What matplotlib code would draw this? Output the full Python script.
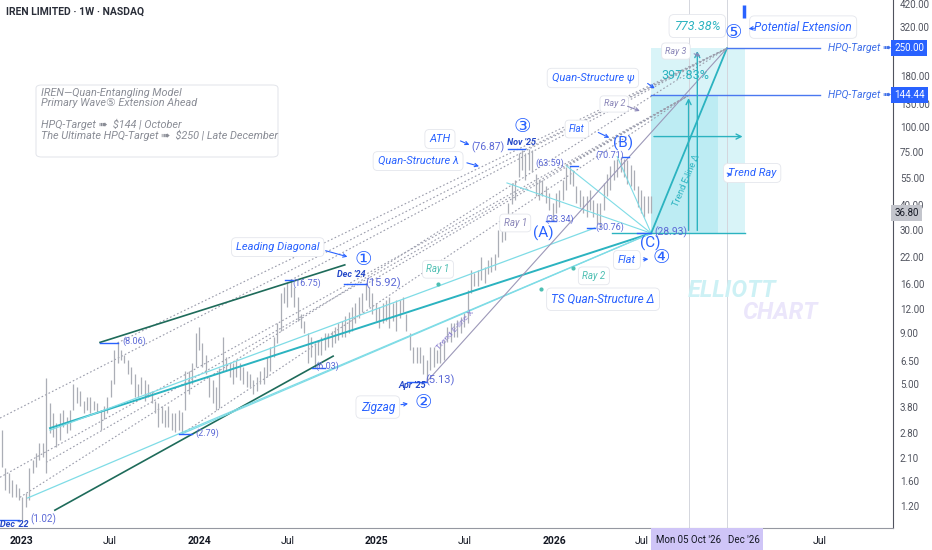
import matplotlib
matplotlib.use('Agg')
import matplotlib.pyplot as plt
import matplotlib.dates as mdates
import matplotlib.transforms as mtrans
from matplotlib.patches import Rectangle, FancyBboxPatch
import pandas as pd

# weekly bars (high / low), first bar week of 2022-11-21
highs = [2.90, 1.88, 1.76, 1.62, 1.56, 1.48, 1.33, 1.40, 1.87, 2.05,
         2.22, 2.50, 2.50, 5.37, 3.98, 3.55, 3.17, 3.55, 3.68, 3.40,
         3.68, 5.00, 4.80, 4.60, 4.10, 4.26, 4.26, 4.10, 3.98, 3.68,
         3.84, 4.26, 5.20, 7.40, 8.06, 7.40, 7.00, 6.60, 6.10, 5.60,
         5.00, 5.40, 5.20, 5.00, 4.60, 4.10, 3.98, 3.84, 3.68, 3.84,
         3.55, 3.55, 3.68, 3.60, 5.80, 5.80, 6.40, 9.00, 9.70, 8.06,
         7.00, 5.40, 5.20, 4.80, 6.00, 8.60, 6.80, 6.40, 6.40, 6.60,
         6.40, 6.10, 5.80, 5.60, 5.20, 5.40, 5.80, 6.10, 6.80, 7.70,
         8.60, 10.1, 14.4, 15.5, 16.2, 16.75, 15.5, 13.8, 11.3, 10.4,
         9.00, 8.60, 8.06, 8.30, 8.60, 9.00, 9.00, 9.30, 9.70, 10.1,
         10.4, 11.0, 11.6, 12.2, 12.8, 13.8, 14.4, 15.92, 15.5, 14.4,
         12.8, 12.2, 12.8, 13.3, 13.8, 12.8, 13.3, 13.3, 13.8, 11.3,
         9.00, 7.70, 7.70, 7.70, 7.00, 6.60, 7.70, 7.70, 7.40, 8.10,
         8.30, 9.70, 10.1, 10.1, 10.5, 10.9, 11.4, 14.9, 18.8, 18.2,
         18.8, 21.9, 19.6, 21.2, 21.9, 22.8, 30.0, 31.0, 32.3, 41.2,
         52.0, 53.8, 74.0, 76.3, 74.0, 76.87, 76.0, 58.0, 53.8, 53.8,
         50.0, 46.5, 41.0, 46.5, 47.9, 53.8, 62.5, 63.59, 60.5, 50.0,
         47.9, 44.6, 44.6, 47.9, 42.6, 41.0, 41.0, 52.0, 58.0, 63.59,
         67.9, 69.0, 70.71, 69.0, 67.9, 64.0, 60.5, 50.0, 47.9, 44.6,
         44.6, 44.6]
lows = [1.90, 1.45, 1.40, 1.33, 1.33, 1.29, 1.02, 1.19, 1.29, 1.76,
        1.89, 2.05, 2.13, 1.76, 2.81, 2.68, 2.39, 2.59, 3.03, 2.81,
        2.91, 3.68, 3.98, 3.84, 3.55, 3.68, 3.55, 3.68, 3.55, 2.91,
        3.30, 3.55, 4.26, 5.00, 6.40, 6.60, 6.40, 5.60, 5.00, 4.26,
        4.26, 4.45, 4.10, 4.26, 3.98, 3.55, 3.03, 3.17, 3.03, 3.03,
        2.91, 2.85, 2.91, 2.79, 3.68, 4.45, 5.00, 6.10, 7.40, 6.10,
        5.60, 4.26, 3.98, 3.68, 3.75, 5.80, 5.80, 5.40, 5.00, 5.40,
        5.20, 5.00, 4.80, 4.80, 4.45, 4.60, 5.00, 5.00, 5.40, 5.80,
        6.80, 8.06, 9.30, 12.8, 12.2, 13.8, 12.2, 10.4, 9.60, 9.00,
        6.40, 6.80, 6.03, 7.00, 7.00, 7.40, 7.70, 7.70, 8.06, 8.30,
        8.60, 8.60, 9.00, 9.30, 10.1, 10.8, 11.6, 13.3, 12.2, 11.3,
        10.4, 9.60, 10.1, 10.4, 9.60, 10.4, 9.30, 10.8, 11.6, 9.30,
        7.40, 6.40, 6.40, 6.40, 5.60, 5.13, 5.90, 6.10, 6.40, 6.40,
        6.60, 8.10, 8.10, 8.60, 8.60, 9.00, 9.70, 10.1, 14.4, 15.6,
        15.6, 16.75, 16.2, 17.9, 18.4, 18.8, 21.9, 26.0, 26.7, 31.0,
        40.5, 42.6, 56.0, 60.5, 53.8, 60.5, 59.0, 44.6, 42.6, 44.6,
        41.0, 37.9, 33.34, 36.6, 39.5, 42.6, 47.9, 51.5, 50.0, 41.0,
        39.5, 36.6, 35.0, 37.9, 35.0, 32.3, 30.76, 37.9, 44.6, 47.9,
        53.8, 56.0, 59.0, 56.0, 51.5, 50.0, 47.9, 39.5, 36.6, 35.0,
        36.6, 36.8]
last_price = 36.80
weeks = pd.date_range('2022-11-21', periods=len(highs), freq='7D')

# wave anchors
wave_c = ('2026-07-20', 28.93)
target_1 = ('2026-10-05', 144.44)
target_2 = ('2026-12-23', 250.00)

price_ticks = [420, 320, 180, 130, 100, 75, 55, 40, 30, 22, 16, 12, 9,
               6.5, 5, 3.8, 2.8, 2.1, 1.6, 1.2]
date_ticks = ['2023-01-01', '2023-07-01', '2024-01-01', '2024-07-01',
              '2025-01-01', '2025-07-01', '2026-01-01', '2026-07-01',
              '2027-07-01']
date_labels = ['2023', 'Jul', '2024', 'Jul', '2025', 'Jul', '2026', 'Jul', 'Jul']

FONT = ['Roboto', 'DejaVu Sans', 'Noto Sans CJK SC']
BLUE = '#2962ff'
LAB = '#5b68d6'
RAYC = '#8a86b8'
TEAL = '#2bb3c0'
LCYAN = '#7fdce6'
DGREEN = '#1e6b5a'
DOT = '#9a9cab'
plt.rcParams['font.family'] = FONT


def T(d):
    return mdates.date2num(pd.Timestamp(d))


fig = plt.figure(figsize=(9.32, 5.5), dpi=100)
ax = fig.add_axes([0, 22 / 550, 893 / 932, 528 / 550])
ax.set_yscale('log')
ax.set_xlim(T('2022-11-17'), T('2027-11-30'))
ax.set_ylim(0.93, 439)

# bars
ax.vlines([T(w) for w in weeks], lows, highs, color='#abaeb6', lw=0.9, zorder=3)


def seg(a, b, **kw):
    ax.plot([T(a[0]), T(b[0])], [a[1], b[1]], **kw)


# shaded projection zone
ax.add_patch(Rectangle((T('2026-07-20'), 28.93), T('2027-01-30') - T('2026-07-20'),
                       250 - 28.93, fc='#d9f4f8', ec='none', zorder=1))
ax.add_patch(Rectangle((T('2026-07-20'), 28.93), T('2026-12-05') - T('2026-07-20'),
                       144.44 - 28.93, fc='#bdecf3', ec='none', zorder=1))
for d in ['2026-10-05', '2026-12-23']:
    ax.axvline(T(d), color='#d4d6dd', lw=0.7, zorder=1)

# dotted fans
for a, b in [(('2022-11-17', 3.35), target_2), (('2022-12-28', 1.33), target_2),
             (('2023-07-17', 8.06), target_2), (('2024-07-08', 16.75), target_2),
             (('2025-11-03', 76.87), target_2), (('2022-11-17', 1.68), target_1),
             (('2023-11-27', 2.79), target_1), (('2024-12-09', 15.92), target_1),
             (('2026-01-26', 63.59), target_1), (('2023-02-20', 2.0), target_1)]:
    seg(a, b, color=DOT, lw=0.8, ls=(0, (1.5, 2)), zorder=2)

# leading diagonal
seg(('2023-06-11', 8.1), ('2024-10-27', 20.0), color=DGREEN, lw=1.2, zorder=4)
seg(('2023-03-10', 1.145), ('2024-10-03', 6.9), color=DGREEN, lw=1.2, zorder=4)

# cyan structure lines
seg(('2023-02-28', 2.98), wave_c, color=TEAL, lw=1.4, zorder=4)
seg(('2023-01-13', 1.32), wave_c, color=LCYAN, lw=0.9, zorder=4)
seg(('2023-11-27', 2.79), wave_c, color=LCYAN, lw=0.9, zorder=4)
seg(('2023-02-28', 2.91), ('2026-03-26', 30.76), color=LCYAN, lw=0.9, zorder=4)
for p in [('2025-09-26', 52.0), ('2026-01-26', 63.59), ('2026-05-11', 70.71)]:
    seg(p, wave_c, color=LCYAN, lw=0.8, zorder=4)
seg(wave_c, target_2, color=TEAL, lw=1.3, zorder=4)
seg(('2025-04-14', 5.13), target_2, color='#9c98b8', lw=0.8, zorder=4)

# horizontals and measure arrows
seg(('2026-05-01', 28.93), ('2027-01-30', 28.93), color=TEAL, lw=1.0, zorder=4)
seg(('2026-07-20', 144.44), ('2027-07-03', 144.44), color='#4a78f0', lw=1.0, zorder=4)
seg(('2026-12-23', 250), ('2027-07-03', 250), color='#4a78f0', lw=1.0, zorder=4)
arr = dict(arrowstyle='->', color=TEAL, lw=1.0, mutation_scale=9)
ax.annotate('', xy=(T('2026-10-23'), 250), xytext=(T('2026-10-23'), 28.93), arrowprops=arr, zorder=4)
ax.annotate('', xy=(T('2026-10-05'), 144.44), xytext=(T('2026-10-05'), 28.93), arrowprops=arr, zorder=4)
ax.annotate('', xy=(T('2027-01-30'), 89.3), xytext=(T('2026-07-20'), 89.3), arrowprops=arr, zorder=4)
ax.plot([T('2027-01-27')] * 2, [355, 414], color=BLUE, lw=2.5, solid_capstyle='butt')

# swing brackets
for d1, d2, p in [('2023-06-11', '2023-07-17', 8.06), ('2023-11-20', '2023-12-18', 2.79),
                  ('2024-10-25', '2024-12-09', 15.92), ('2024-08-20', '2024-09-16', 6.03),
                  ('2025-03-05', '2025-04-14', 5.13), ('2025-09-28', '2025-11-03', 76.87),
                  ('2025-12-15', '2026-01-05', 33.34), ('2026-03-10', '2026-03-26', 30.76),
                  ('2026-02-03', '2026-02-20', 63.59), ('2026-05-20', '2026-06-05', 70.71),
                  ('2026-06-20', '2026-07-20', 28.93), ('2022-11-17', '2022-12-26', 1.02),
                  ('2024-06-25', '2024-07-12', 16.75)]:
    seg((d1, p), (d2, p), color=BLUE, lw=1.0, zorder=5)


def box(txt, d, p, color=BLUE, size=8, **kw):
    ax.text(T(d), p, txt, color=color, fontsize=size, style='italic', ha='center',
            va='center', zorder=7,
            bbox=dict(boxstyle='round,pad=0.4', fc='white', ec='#e4e6ec', lw=0.6), **kw)


def lab(txt, d, p, color=LAB, size=6.5, **kw):
    ax.text(T(d), p, txt, color=color, fontsize=size, ha='center', va='center', zorder=7, **kw)


def arrow(a, b, color=BLUE):
    ax.annotate('', xy=(T(b[0]), b[1]), xytext=(T(a[0]), a[1]), zorder=7,
                arrowprops=dict(arrowstyle='->', color=color, lw=0.8, mutation_scale=6))


box('Leading Diagonal', '2024-06-11', 24.6)
arrow(('2024-09-12', 23.8), ('2024-11-07', 21.8))
box('Zigzag', '2025-01-03', 3.81, size=8.5)
arrow(('2025-02-14', 3.9), ('2025-03-12', 3.98))
box('ATH', '2025-05-11', 86.8)
arrow(('2025-06-17', 86), ('2025-07-16', 80))
box('Quan-Structure λ', '2025-03-27', 67.1)
arrow(('2025-06-30', 66.3), ('2025-08-05', 62.6))
box('Flat', '2026-02-17', 97.5, size=7)
arrow(('2026-03-28', 95), ('2026-04-30', 86.8))
box('Quan-Structure ψ', '2026-03-22', 176.8)
arrow(('2026-07-08', 169), ('2026-08-01', 153.7))
box('Ray 2', '2026-05-05', 130.6, color=RAYC, size=6.5)
arrow(('2026-05-27', 128.6), ('2026-07-02', 119), color=RAYC)
box('Ray 3', '2026-09-09', 242, color=RAYC, size=6.5)
arrow(('2026-10-11', 237), ('2026-11-04', 225.8), color=RAYC)
box('Ray 1', '2025-10-13', 32.6, color=RAYC, size=7)
box('Flat', '2026-05-31', 21.2)
arrow(('2026-06-28', 21.3), ('2026-07-20', 21.4))
box('Trend Ray', '2027-02-13', 58.4)
arrow(('2026-12-20', 57), ('2027-01-08', 58), color=BLUE)
box('773.38%', '2026-10-23', 324, color=TEAL, size=9)
box('Potential Extension', '2027-05-29', 320, size=8.5)
arrow(('2027-02-24', 317), ('2027-01-31', 313))
box('Ray 1', '2025-05-07', 19.0, color='#4dbfb2', size=7)
box('Ray 2', '2026-03-24', 17.6, color='#4dbfb2', size=7)
box('TS Quan-Structure Δ', '2026-04-12', 13.4, size=8.5)
for d, p in [('2025-05-07', 16.0), ('2026-02-09', 19.3), ('2025-12-05', 15.1)]:
    ax.plot(T(d), p, 'o', ms=2, color='#4dbfb2', zorder=6)

lab('397.83%', '2026-09-28', 181, color=TEAL, size=9)
for txt, d, p in [('①', '2024-12-04', 21.2), ('②', '2025-04-06', 3.99),
                  ('③', '2025-10-27', 99.8), ('④', '2026-08-09', 21.6),
                  ('⑤', '2027-01-05', 298.7)]:
    lab(txt, d, p, color=BLUE, size=14)
for txt, d, p in [('(A)', '2025-12-09', 29.0), ('(B)', '2026-05-23', 82.8),
                  ('(C)', '2026-07-18', 25.8)]:
    lab(txt, d, p, color=BLUE, size=11)
for txt, d, p in [("Dec '24", '2024-11-09', 17.8), ("Apr '25", '2025-03-14', 4.92),
                  ("Nov '25", '2025-10-25', 83.8), ("Dec '22", '2022-12-16', 0.97)]:
    lab(txt, d, p, color='#2448c8', size=6.5, fontweight='bold', style='italic')
for txt, d, p, s in [('(8.06)', '2023-08-20', 8.2, 6.5), ('(2.79)', '2024-01-17', 2.81, 6.5),
                     ('(16.75)', '2024-08-10', 16.2, 6.5), ('(6.03)', '2024-09-22', 6.14, 6.5),
                     ('(15.92)', '2025-01-14', 16.2, 8), ('(5.13)', '2025-05-11', 5.22, 8),
                     ('(76.87)', '2025-08-18', 79, 7.5), ('(63.59)', '2025-12-24', 65.6, 6.5),
                     ('(70.71)', '2026-04-26', 72, 6.5), ('(33.34)', '2026-01-13', 34.1, 6.5),
                     ('(30.76)', '2026-04-26', 31.1, 6.5), ('(28.93)', '2026-08-30', 29.3, 7.5),
                     ('(1.02)', '2023-02-14', 1.03, 7)]:
    lab(txt, d, p, size=s)
lab('Trend E-line X', '2025-06-11', 9.35, color='#8a7fd0', size=6, rotation=47)
lab('Trend E-line Δ', '2026-09-30', 53.8, color=TEAL, size=6.5, rotation=67)
for txt, p in [('HPQ-Target ➠', 250), ('HPQ-Target ➠', 144.44)]:
    ax.text(T('2027-07-19'), p, txt, color='#3f6fe8', fontsize=7.5, style='italic',
            ha='left', va='center', zorder=7)
lab('ELLIOTT', '2027-01-03', 14.9, color='#cdf1f5', size=17, fontweight='bold', style='italic')
lab('CHART', '2027-04-11', 11.5, color='#ebe6fb', size=17, fontweight='bold', style='italic')

# axes styling
for s in ['top', 'left']:
    ax.spines[s].set_visible(False)
ax.spines['right'].set_color('#50535e')
ax.spines['bottom'].set_color('#9598a1')
ax.yaxis.tick_right()
ax.set_yticks(price_ticks)
ax.set_yticklabels([f'{v:.2f}' for v in price_ticks])
ax.yaxis.set_minor_locator(matplotlib.ticker.NullLocator())
ax.tick_params(axis='y', length=0, pad=5, labelsize=7, labelcolor='#50535e')
ax.set_xticks([T(d) for d in date_ticks])
ax.set_xticklabels(date_labels)
ax.tick_params(axis='x', length=0, pad=6, labelsize=7.5, labelcolor='#131722')
for t, l in zip(ax.get_xticklabels(), date_labels):
    if l != 'Jul':
        t.set_fontweight('bold')

trans = mtrans.blended_transform_factory(ax.transAxes, ax.transData)
for v, fc, tc in [(250, BLUE, 'white'), (144.44, BLUE, 'white'), (last_price, '#c3c5cc', '#131722')]:
    ax.text(1.0015, v, f'{v:.2f}', transform=trans, ha='left', va='center', fontsize=7,
            color=tc, zorder=8, clip_on=False,
            bbox=dict(boxstyle='square,pad=0.3', fc=fc, ec='none'))

xtrans = mtrans.blended_transform_factory(ax.transData, ax.transAxes)
ax.add_patch(Rectangle((T('2026-07-20'), -0.042), T('2027-03-07') - T('2026-07-20'), 0.042,
                       transform=xtrans, fc='#cfc5f7', ec='none', clip_on=False, zorder=8))
for txt, d in [("Mon 05 Oct '26", '2026-10-05'), ("Dec '26", '2027-01-27')]:
    ax.text(T(d), -0.022, txt, transform=xtrans, ha='center', va='center', fontsize=7,
            color='#131722', zorder=9, clip_on=False)

fig.text(0.006, 0.978, 'IREN LIMITED · 1W · NASDAQ', fontsize=7.5, fontweight='bold',
         color='#2a2e39', va='center')

# info note box
fig.patches.append(FancyBboxPatch((36 / 932, 1 - 157 / 550), 242 / 932, 72 / 550,
                                  boxstyle='round,pad=0,rounding_size=0.006',
                                  transform=fig.transFigure, fc='white', ec='#e2e4ea',
                                  lw=0.7, zorder=9))
info = ('IREN—Quan-Entangling Model\nPrimary Wave⑤ Extension Ahead\n\n'
        'HPQ-Target ➠  $144 | October\nThe Ultimate HPQ-Target ➠  $250 | Late December')
fig.text(41 / 932, 1 - 88 / 550, info, fontsize=7.8, style='italic', color='#8a8d96',
         va='top', ha='left', linespacing=1.02, zorder=10)

fig.savefig('out.png', dpi=100)
